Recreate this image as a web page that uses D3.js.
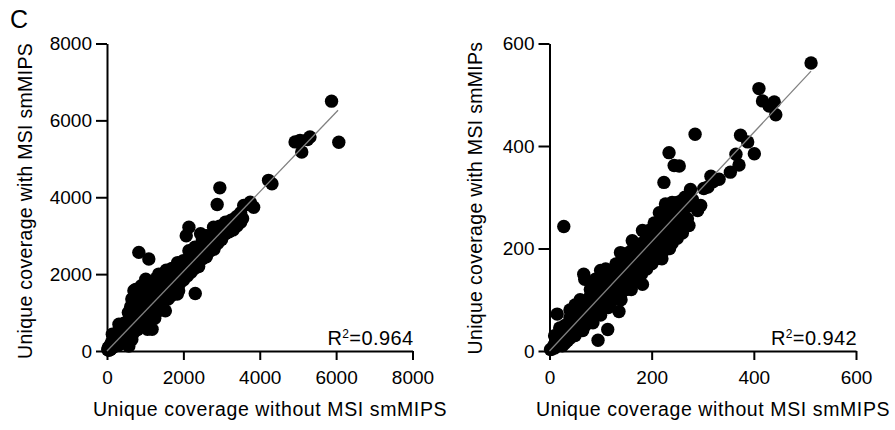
<!DOCTYPE html>
<html>
<head>
<meta charset="utf-8">
<script src="https://cdn.jsdelivr.net/npm/d3@7"></script>
<style>
  body { margin: 0; background: #fff; }
  svg text { font-family: "Liberation Sans", Arial, sans-serif; fill: #000; }
  .axis path, .axis line { stroke: #000; stroke-width: 2; }
</style>
</head>
<body>
<div id="chart"></div>
<script>
// left panel: unique coverage (all smMIPs) [without MSI, with MSI]
var leftPoints = [
  [20,30],[40,60],[60,50],[80,110],[100,90],[120,150],[140,120],[150,200],[170,160],[190,230],
  [200,150],[60,120],[90,40],[130,80],[180,110],[30,80],[110,210],[160,280],[139,435],[313,697],
  [220,260],[240,200],[260,330],[280,250],[300,380],[320,280],[340,420],[360,310],[380,470],[400,350],
  [420,520],[440,380],[460,560],[480,420],[500,600],[250,450],[300,520],[350,600],[400,700],[450,720],
  [280,150],[350,220],[420,290],[480,330],[320,170],[500,350],[200,380],[573,130],
  [520,560],[540,700],[560,480],[580,620],[600,800],[620,520],[640,680],[660,900],[680,600],[700,760],
  [720,1000],[740,650],[760,820],[780,1100],[800,700],[820,880],[840,1200],[860,760],[880,950],[900,1300],
  [920,820],[940,1000],[960,1400],[980,880],[1000,1050],[560,1000],[617,1044],[620,1150],[704,1566],[760,1450],
  [820,1500],[880,1600],[600,400],[700,480],[800,560],[900,650],[1000,750],[530,250],[650,300],[750,1250],
  [850,1050],[950,1150],
  [1020,1200],[1040,1500],[1060,565],[1080,1100],[1100,1700],[1120,1250],[1140,900],[1160,1350],[1180,1800],[1200,1000],
  [1220,1300],[1240,1600],[1260,1100],[1280,1400],[1300,1900],[1320,1200],[1340,1500],[1355,2001],[1380,1300],[1400,1550],
  [1420,1700],[1440,1350],[1460,1600],[1480,1850],[1500,1400],[1015,1870],[1095,2393],[834,2566],[1200,1750],[1300,1650],
  [1100,1400],[1250,850],[1350,1050],[1450,1150],[1180,1550],[1280,1750],[1181,566],
  [1529,1044],[1550,1700],[1580,1800],[1600,1500],[1650,1950],[1700,1750],[1750,2050],[1800,1850],[1840,1480],[1850,2100],
  [1876,1566],[1900,2000],[1950,2200],[1963,2262],[2000,2050],[1700,1450],[1600,1850],[1800,2150],
  [2050,2300],[2100,2200],[2145,3220],[2075,3000],[2150,2400],[2200,2300],[2250,2500],[2311,1495],[2300,2400],[2350,2650],
  [2400,2500],[2450,2750],[2500,2600],[2550,2850],[2600,2700],[2650,2950],[2700,2800],[2750,3000],[2800,2850],[2850,3100],
  [2900,2950],[2950,3250],[3000,3050],[2200,2600],[2400,2200],[2600,2450],[2800,2650],[2300,2700],[2500,2900],[2450,3050],
  [2790,3220],[2600,3000],[2145,2610],[2275,2175],
  [3050,3200],[3100,3350],[3150,3150],[3200,3300],[3250,3400],[3300,3350],[3350,3450],[3405,3480],[3450,3400],[3500,3600],
  [2955,4245],[2885,3810],[3580,3785],[3750,3870],[3840,3740],[3100,3050],[3200,3150],
  [4230,4440],[4320,4350],[4925,5440],[5055,5480],[5100,5175],[5315,5570],[5250,5500],[5880,6500],[6070,5430],
  // dense core
  [50,20],[100,140],[150,100],[200,250],[250,200],[300,300],[350,350],[400,420],[450,460],[500,500],
  [550,580],[600,620],[650,650],[700,700],[750,780],[800,820],[850,880],[900,920],[950,980],[1000,1000],
  [1050,1100],[1100,1120],[1150,1200],[1200,1230],[1250,1300],[1300,1340],[1350,1400],[1400,1450],[1450,1500],[1500,1560],
  [1550,1600],[1600,1650],[1650,1700],[1700,1760],[1750,1800],[1800,1860],[1850,1900],[1900,1960],[1950,2000],[2000,2080],
  [2100,2150],[2200,2250],[2300,2350],[2400,2450],[2500,2550],[2600,2650],[2700,2750],[2800,2900],[2900,3000],[3000,3100],
  [3100,3200],[3200,3350],[3300,3400],[3400,3500],
  [300,450],[400,600],[500,750],[600,900],[700,1050],[800,1200],[900,1400],[1000,1550],[1100,1600],[1200,1650],
  [650,1350],[750,1600],[900,1700],[1000,1650],[1150,1700],[1250,1800],[1400,1900],[1500,1950],[1550,2100],[1700,2150],
  [1850,2300],[2000,2350],
  [400,250],[500,300],[600,450],[700,550],[800,650],[900,750],[1000,850],[1100,950],[1200,1100],[1300,1150],
  [1400,1250],[1500,1300],[1600,1350],[1700,1550],[1800,1650],[1900,1750],[2000,1850],[2100,1950],[2200,2050],[2300,2150],
  [2400,2300],[2500,2400],[2600,2500],[2700,2600],[2800,2700],[2900,2800],[3000,2900],[3200,3100],[3300,3150],[3400,3250],
  [3500,3350],[3550,3450]
];

// right panel: unique coverage (MSI smMIPs) [without MSI, with MSI]
var rightPoints = [
  [2,3],[5,4],[8,10],[10,6],[12,15],[15,12],[18,20],[20,14],[22,26],[25,20],
  [28,32],[30,22],[15,72],[10,30],[20,45],[25,10],[28,243],
  [32,38],[35,30],[38,45],[40,34],[42,50],[45,38],[48,56],[50,42],[52,60],[55,46],
  [58,66],[60,50],[62,72],[65,55],[68,78],[70,58],[40,80],[50,90],[60,100],[67,150],
  [69,140],[35,20],[50,30],[65,40],[45,60],[55,75],
  [72,80],[75,70],[78,88],[80,74],[82,95],[85,78],[88,100],[90,84],[92,105],[95,88],
  [98,110],[100,92],[102,118],[105,96],[108,125],[110,100],[112,130],[115,105],[118,135],[120,110],
  [100,157],[95,21],[114,42],[80,120],[90,140],[105,150],[110,160],[85,55],[100,70],[115,85],[75,100],
  [122,140],[125,115],[128,145],[130,120],[132,150],[135,125],[136,77],[138,155],[139,192],[140,130],
  [142,160],[145,135],[148,165],[150,140],[152,170],[155,145],[158,175],[160,150],[162,215],[165,180],
  [168,155],[170,185],[172,160],[175,190],[178,165],[180,195],[182,130],[182,235],[130,170],[150,190],
  [140,100],[160,120],
  [185,175],[188,200],[190,180],[195,210],[200,190],[205,220],[210,200],[214,186],[215,230],[220,205],
  [225,240],[227,202],[227,287],[230,215],[234,387],[235,250],[224,329],[240,225],[244,362],[245,260],
  [250,235],[254,361],[254,287],[255,270],[260,245],[195,235],[205,250],[215,270],[230,260],[240,280],
  [250,290],[220,180],[235,200],[240,290],[258,293],[270,290],[265,300],[267,248],
  [265,280],[270,258],[273,245],[276,315],[285,423],[290,274],[296,284],[302,317],[310,320],[316,341],
  [320,330],[332,335],[280,290],[265,255],
  [354,349],[365,384],[371,363],[374,421],[388,408],[401,385],[410,512],[417,488],[430,478],[440,486],
  [443,461],[512,562],
  // dense core
  [10,10],[20,20],[30,30],[40,42],[50,52],[60,62],[70,72],[80,84],[90,94],[100,104],
  [110,115],[120,125],[130,136],[140,146],[150,157],[160,168],[170,178],[180,188],[190,198],[200,210],
  [210,220],[220,232],[230,242],[240,252],[250,262],[260,272],[270,282],[280,295],
  [30,50],[40,65],[50,75],[60,85],[70,95],[80,108],[90,118],[100,130],[110,140],[120,150],
  [130,160],[140,175],[150,180],[160,195],[170,205],[180,210],[190,225],[200,235],[210,245],[220,255],
  [230,275],
  [30,15],[40,25],[50,35],[60,45],[70,50],[80,60],[90,70],[100,80],[110,88],[120,95],
  [130,105],[140,112],[150,120],[160,130],[170,140],[180,150],[190,160],[200,170],[210,180],[220,190],
  [230,200],[240,210],[250,220],[260,230]
];

// fitted lines [x0, y0, x1, y1]
var leftFit = [0, 0, 6050, 6262];
var rightFit = [0, 0, 512, 546];

var leftTicks = [0, 2000, 4000, 6000, 8000];
var rightTicks = [0, 200, 400, 600];

var svg = d3.select("#chart").append("svg")
    .attr("width", 895)
    .attr("height", 430);

function panel(opt) {
  var x = d3.scaleLinear().domain([0, opt.max]).range([opt.left, opt.right]);
  var y = d3.scaleLinear().domain([0, opt.max]).range([351, 43.5]);

  // x axis
  var gx = svg.append("g")
      .attr("class", "axis")
      .attr("transform", "translate(0,351)")
      .call(d3.axisBottom(x).tickValues(opt.ticks).tickFormat(d3.format("d"))
        .tickSize(9).tickSizeOuter(0).tickPadding(11));

  // y axis
  var gy = svg.append("g")
      .attr("class", "axis")
      .attr("transform", "translate(" + opt.left + ",0)")
      .call(d3.axisLeft(y).tickValues(opt.ticks).tickFormat(d3.format("d"))
        .tickSize(11).tickSizeOuter(0).tickPadding(4));

  [gx, gy].forEach(function(g) {
    g.attr("font-size", null).attr("font-family", null);
    g.selectAll("text").style("font-size", "19px");
  });

  // dots
  svg.append("g").selectAll("circle")
      .data(opt.points)
    .enter().append("circle")
      .attr("cx", function(d) { return x(d[0]); })
      .attr("cy", function(d) { return y(d[1]); })
      .attr("r", 6.7)
      .attr("fill", "#000");

  // regression line
  svg.append("line")
      .attr("x1", x(opt.fit[0])).attr("y1", y(opt.fit[1]))
      .attr("x2", x(opt.fit[2])).attr("y2", y(opt.fit[3]))
      .attr("stroke", "#808080")
      .attr("stroke-width", 1.3);

  // R squared
  var r = svg.append("text")
      .attr("x", opt.right + 1)
      .attr("y", 345)
      .attr("text-anchor", "end")
      .style("font-size", "20px")
      .style("letter-spacing", "0.4px");
  r.append("tspan").text("R");
  r.append("tspan").text("2").attr("dy", -7).style("font-size", "12px");
  r.append("tspan").text("=" + opt.r2).attr("dy", 7);

  // axis titles
  svg.append("text")
      .attr("x", opt.xTitleX)
      .attr("y", 416)
      .attr("text-anchor", "middle")
      .style("font-size", "19.5px")
      .style("letter-spacing", "0.6px")
      .text(opt.xTitle);

  svg.append("text")
      .attr("transform", "translate(" + opt.yTitleX + "," + opt.yTitleY + ") rotate(-90)")
      .attr("text-anchor", "middle")
      .style("font-size", "19.5px")
      .style("letter-spacing", "0.3px")
      .text(opt.yTitle);
}

panel({
  max: 8000, left: 107, right: 412.5, ticks: leftTicks, points: leftPoints, fit: leftFit,
  r2: "0.964", xTitle: "Unique coverage without MSI smMIPS", xTitleX: 270,
  yTitle: "Unique coverage with MSI smMIPS", yTitleX: 31.5, yTitleY: 201
});

panel({
  max: 600, left: 549.5, right: 856, ticks: rightTicks, points: rightPoints, fit: rightFit,
  r2: "0.942", xTitle: "Unique coverage without MSI smMIPS", xTitleX: 713,
  yTitle: "Unique coverage with MSI smMIPs", yTitleX: 481.5, yTitleY: 198
});

// panel letter
svg.append("text")
    .attr("x", 10)
    .attr("y", 28)
    .style("font-size", "25px")
    .text("C");
</script>
</body>
</html>
